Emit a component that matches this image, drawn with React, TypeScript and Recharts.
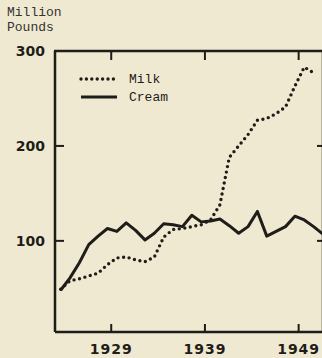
import { LineChart, Line, XAxis, YAxis } from "recharts"

const INK = "#1f1d1a"
const PAPER = "#efe9d1"

const years = [
  1923, 1924, 1925, 1926, 1927, 1928, 1929, 1930, 1931, 1932, 1933, 1934, 1935, 1936, 1937,
  1938, 1939, 1940, 1941, 1942, 1943, 1944, 1945, 1946, 1947, 1948, 1949, 1950, 1951,
]
const milk = [
  49, 58, 60, 63, 66, 75, 82, 83, 80, 78, 83, 104, 112, 113, 115,
  117, 122, 138, 188, 200, 212, 227, 229, 234, 241, 263, 283, 277, null,
]
const cream = [
  48, 61, 77, 96, 105, 113, 110, 119, 111, 101, 108, 118, 117, 115, 127,
  120, 121, 123, 116, 108, 115, 131, 105, 110, 115, 126, 122, 115, 107,
]
const yearTicks = [1929, 1939, 1949]
const poundTicks = [100, 200, 300]
const rightTicks = [100, 200]

// points are plotted mid-year, ticks mark the start of the year
const data = years.map((year, i) => ({ year, x: year + 0.6, milk: milk[i], cream: cream[i] }))

const xDomain = [1923, 1951.6]
const yDomain = [4, 300]

// plot box in page pixels (chart margins + axis sizes below)
const box = { left: 55, right: 323, top: 51, bottom: 332 }
const px = (v: number) => box.left + ((v - xDomain[0]) / (xDomain[1] - xDomain[0])) * (box.right - box.left)
const py = (v: number) => box.bottom - ((v - yDomain[0]) / (yDomain[1] - yDomain[0])) * (box.bottom - box.top)

const labelFont = {
  fontFamily: "'DejaVu Sans', sans-serif",
  fontWeight: 700,
  fontSize: 14,
  fill: INK,
}

function BottomTick({ x, y, payload }: any) {
  return (
    <text x={x} y={y + 22} textAnchor="middle" letterSpacing={1} {...labelFont}>
      {payload.value}
    </text>
  )
}

function LeftTick({ x, y, payload }: any) {
  return (
    <g>
      <line x1={x} y1={y} x2={x + 9} y2={y} stroke={INK} strokeWidth={2} />
      <text x={x - 10} y={y + 5} textAnchor="end" {...labelFont}>
        {payload.value}
      </text>
    </g>
  )
}

// top/right sides of the frame, inward ticks and the key, drawn over the chart
function Overlay() {
  const text = { fontFamily: "'Liberation Mono', monospace", fontSize: 13, fill: INK }
  return (
    <svg
      width={322}
      height={358}
      viewBox="0 0 322 358"
      style={{ position: "absolute", left: 0, top: 0, zIndex: 2, pointerEvents: "none" }}
    >
      <path d={`M${box.left - 1},${box.top} H${box.right} V${box.bottom}`} fill="none" stroke={INK} strokeWidth={2.5} />
      {yearTicks.map((t) => (
        <g key={t}>
          <path d={`M${px(t)},${box.top} V${box.top + 9}`} stroke={INK} strokeWidth={2} />
          <path d={`M${px(t)},${box.bottom} V${box.bottom - 8}`} stroke={INK} strokeWidth={2} />
        </g>
      ))}
      {rightTicks.map((t) => (
        <path key={t} d={`M${box.right},${py(t)} H${box.right - 6}`} stroke={INK} strokeWidth={2} />
      ))}
      <line x1={81} y1={79} x2={118} y2={79} stroke={INK} strokeWidth={3.4} strokeDasharray="0 5.4" strokeLinecap="round" />
      <text x={129} y={83} {...text}>Milk</text>
      <line x1={81} y1={97} x2={117} y2={97} stroke={INK} strokeWidth={3.2} />
      <text x={129} y={101} {...text}>Cream</text>
    </svg>
  )
}

export default function App() {
  return (
    <div style={{ position: "relative", width: 322, height: 358, overflow: "hidden", background: PAPER }}>
      <style>{`html,body{margin:0;overflow:hidden;background:${PAPER}}`}</style>
      <div
        style={{
          position: "absolute",
          left: 7,
          top: 5,
          fontFamily: "'Liberation Mono', monospace",
          fontSize: 13,
          lineHeight: "15px",
          color: "#333",
        }}
      >
        Million
        <br />
        Pounds
      </div>
      <LineChart width={330} height={358} data={data} margin={{ top: 51, right: 7, left: 0, bottom: 0 }}>
        <XAxis
          xAxisId="bottom"
          dataKey="x"
          type="number"
          domain={xDomain}
          ticks={yearTicks}
          allowDataOverflow
          height={26}
          tickSize={0}
          tickMargin={0}
          tickLine={false}
          axisLine={{ stroke: INK, strokeWidth: 2.5 }}
          tick={<BottomTick />}
        />
        <YAxis
          yAxisId="left"
          type="number"
          domain={yDomain}
          ticks={poundTicks}
          allowDataOverflow
          width={55}
          tickSize={0}
          tickMargin={0}
          tickLine={false}
          axisLine={{ stroke: INK, strokeWidth: 2.5 }}
          tick={<LeftTick />}
        />
        <Line
          xAxisId="bottom"
          yAxisId="left"
          dataKey="cream"
          type="linear"
          stroke={INK}
          strokeWidth={3}
          strokeLinejoin="round"
          dot={false}
          isAnimationActive={false}
        />
        <Line
          xAxisId="bottom"
          yAxisId="left"
          dataKey="milk"
          type="linear"
          stroke={INK}
          strokeWidth={3.4}
          strokeDasharray="0 5.6"
          strokeLinecap="round"
          dot={false}
          connectNulls={false}
          isAnimationActive={false}
        />
      </LineChart>
      <Overlay />
    </div>
  )
}
